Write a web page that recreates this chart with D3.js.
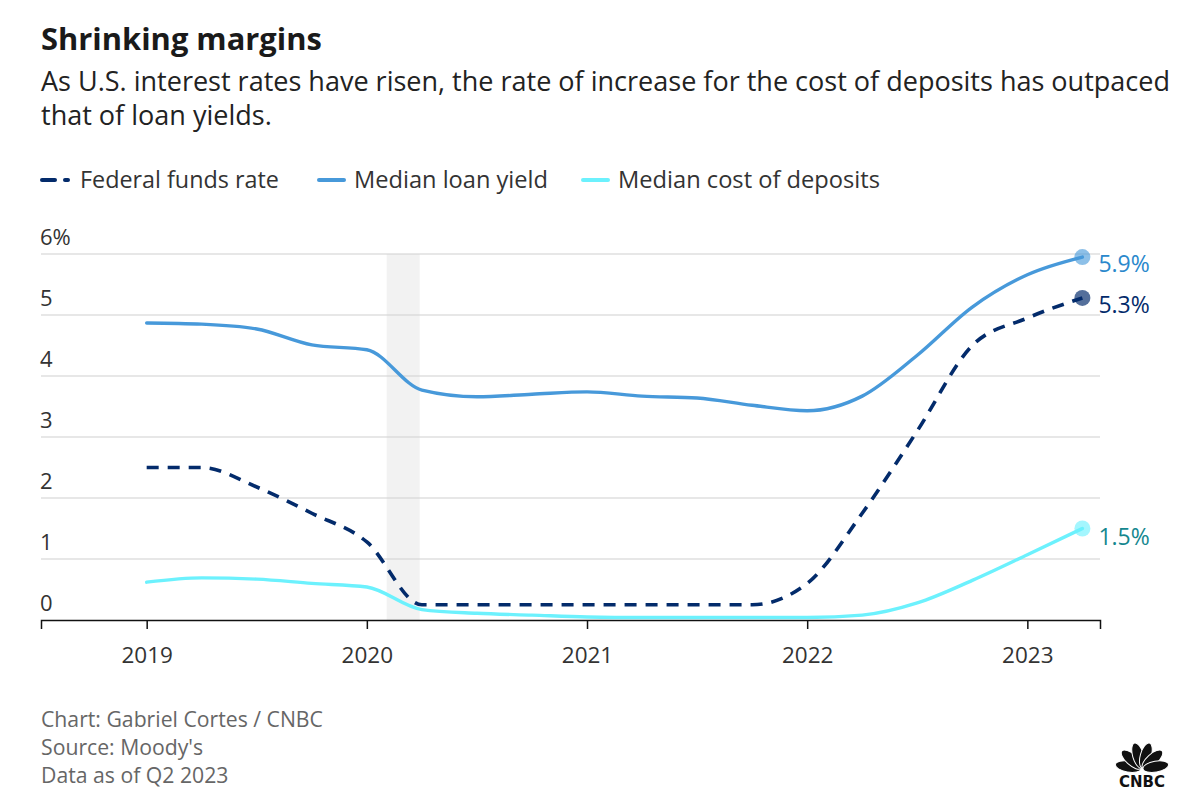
<!DOCTYPE html>
<html>
<head>
<meta charset="utf-8">
<script src="https://cdn.jsdelivr.net/npm/d3@7"></script>
<style>
  body { margin: 0; background: #fff; font-family: "Open Sans", Lato, sans-serif; }
  svg text { font-family: "Open Sans", Lato, sans-serif; }
</style>
</head>
<body>
<script>
// quarterly data, Q1 2019 .. Q2 2023
var quarters = [2019, 2019.25, 2019.5, 2019.75, 2020, 2020.25, 2020.5, 2020.75, 2021, 2021.25,
                2021.5, 2021.75, 2022, 2022.25, 2022.5, 2022.75, 2023, 2023.25];
var fedFunds = [2.5, 2.5, 2.18, 1.75, 1.28, 0.25, 0.25, 0.25, 0.25, 0.25,
                0.25, 0.25, 0.6, 1.75, 3.1, 4.5, 4.95, 5.28];
var loanYield = [4.87, 4.85, 4.77, 4.51, 4.43, 3.77, 3.66, 3.7, 3.74, 3.67,
                 3.64, 3.52, 3.43, 3.67, 4.34, 5.13, 5.66, 5.95];
var depositCost = [0.62, 0.69, 0.67, 0.6, 0.54, 0.17, 0.11, 0.08, 0.05, 0.04,
                   0.04, 0.04, 0.04, 0.08, 0.28, 0.65, 1.07, 1.5];
var seriesNames = ["Federal funds rate", "Median loan yield", "Median cost of deposits"];
var endLabels = ["5.3%", "5.9%", "1.5%"];
var yearTicks = [2019, 2020, 2021, 2022, 2023];
var yTicks = [0, 1, 2, 3, 4, 5, 6];
var recession = [2020.09, 2020.24];

var W = 1200, H = 812;
var svg = d3.select("body").append("svg").attr("width", W).attr("height", H);

// shrink/grow font so a text fills the width it has in the original
function fit(sel, width) {
  var base = parseFloat(sel.style("font-size"));
  var w = sel.node().getComputedTextLength();
  sel.style("font-size", (base * width / w).toFixed(2) + "px");
  return sel;
}

// titles
fit(svg.append("text").attr("x", 41).attr("y", 50)
  .style("font-size", "27px").style("font-weight", "bold").attr("fill", "#1a1a1a")
  .text("Shrinking margins"), 281);
var sub = ["As U.S. interest rates have risen, the rate of increase for the cost of deposits has outpaced",
           "that of loan yields."];
var subSize;
sub.forEach(function(s, i) {
  var t = svg.append("text").attr("x", 41).attr("y", 91 + i * 34)
    .style("font-size", "22px").attr("fill", "#222").text(s);
  if (i === 0) { fit(t, 1129); subSize = t.style("font-size"); }
  else t.style("font-size", subSize);
});

// scales
var x = d3.scaleLinear().domain([2018.52, 2023.33]).range([41, 1100]);
var y = d3.scaleLinear().domain([0, 6]).range([620, 254]);

var colors = ["#032b6b", "#4799da", "#6cf1fd"];
var labelColors = ["#032b6b", "#2a88cc", "#14878f"];

// recession band
svg.append("rect")
  .attr("x", x(recession[0])).attr("y", y(6))
  .attr("width", x(recession[1]) - x(recession[0])).attr("height", y(0) - y(6))
  .attr("fill", "#f2f2f2");

// grid
svg.append("g").selectAll("line").data(yTicks.filter(function(d) { return d > 0; })).enter()
  .append("line")
  .attr("x1", 41).attr("x2", 1100)
  .attr("y1", function(d) { return y(d); }).attr("y2", function(d) { return y(d); })
  .attr("stroke", "#d0d0d0").attr("stroke-width", 1.2);

svg.append("g").selectAll("text").data(yTicks).enter()
  .append("text")
  .attr("x", 40).attr("y", function(d) { return y(d) - 9; })
  .style("font-size", "22px").attr("fill", "#333")
  .text(function(d) { return d === 6 ? "6%" : d; });

// x axis
var xAxis = svg.append("g").attr("transform", "translate(0," + y(0) + ")")
  .call(d3.axisBottom(x).tickValues(yearTicks).tickFormat(d3.format("d")).tickSize(9));
xAxis.select(".domain").attr("stroke", "#111").attr("stroke-width", 1.5);
xAxis.selectAll(".tick line").attr("stroke", "#111").attr("stroke-width", 1.5);
xAxis.selectAll(".tick text").attr("y", 43).attr("dy", 0)
  .style("font-size", "22.5px").attr("fill", "#333")
  .style("font-family", "'Open Sans', Lato, sans-serif");

// lines
var line = d3.line()
  .x(function(d, i) { return x(quarters[i]); })
  .y(function(d) { return y(d); })
  .curve(d3.curveMonotoneX);

var allSeries = [fedFunds, loanYield, depositCost];
var drawOrder = [2, 1, 0];
drawOrder.forEach(function(k) {
  svg.append("path").datum(allSeries[k])
    .attr("d", line)
    .attr("fill", "none")
    .attr("stroke", colors[k])
    .attr("stroke-width", k === 0 ? 3.6 : 3.4)
    .attr("stroke-dasharray", k === 0 ? "12,9" : null)
    .attr("stroke-linecap", k === 0 ? "butt" : "round");
});

// end dots and labels
drawOrder.forEach(function(k) {
  var s = allSeries[k];
  var last = s[s.length - 1];
  var lx = x(quarters[quarters.length - 1]);
  svg.append("circle").attr("cx", lx).attr("cy", y(last)).attr("r", 8)
    .attr("fill", colors[k]).attr("fill-opacity", k === 0 ? 0.68 : 0.62);
  svg.append("text").attr("x", lx + 16).attr("y", y(last) + (k === 2 ? 16 : 15))
    .style("font-size", "23px").attr("fill", labelColors[k])
    .text(endLabels[k]);
});

// legend
var legendX = [41, 318, 582];
var legendW = [199, 194, 262];
seriesNames.forEach(function(n, k) {
  var g = svg.append("g").attr("transform", "translate(" + legendX[k] + ",180)");
  if (k === 0) {
    g.append("line").attr("x1", 1).attr("x2", 14).attr("y1", 0).attr("y2", 0)
      .attr("stroke", colors[0]).attr("stroke-width", 4).attr("stroke-linecap", "round");
    g.append("line").attr("x1", 24).attr("x2", 27).attr("y1", 0).attr("y2", 0)
      .attr("stroke", colors[0]).attr("stroke-width", 4).attr("stroke-linecap", "round");
  } else {
    g.append("line").attr("x1", 1).attr("x2", 26).attr("y1", 0).attr("y2", 0)
      .attr("stroke", colors[k]).attr("stroke-width", 4).attr("stroke-linecap", "round");
  }
  fit(g.append("text").attr("x", k === 0 ? 39 : 36).attr("y", 8)
    .style("font-size", "21px").attr("fill", "#333").text(n), legendW[k]);
});

// footer
var foot = ["Chart: Gabriel Cortes / CNBC", "Source: Moody's", "Data as of Q2 2023"];
var footSize;
foot.forEach(function(t, i) {
  var el = svg.append("text").attr("x", 41).attr("y", 727 + i * 28)
    .style("font-size", "18px").attr("fill", "#666").text(t);
  if (i === 0) { fit(el, 282); footSize = el.style("font-size"); }
  else el.style("font-size", footSize);
});

// CNBC peacock mark
var logo = svg.append("g").attr("transform", "translate(1142,769)");
var angles = [-80, -48, -16, 16, 48, 80];
angles.forEach(function(a) {
  logo.append("ellipse")
    .attr("cx", 0).attr("cy", -14).attr("rx", 5.5).attr("ry", 13)
    .attr("transform", "rotate(" + a + ") ")
    .attr("fill", "#111").attr("stroke", "#fff").attr("stroke-width", 1);
});
logo.append("text").attr("x", 0).attr("y", 18).attr("text-anchor", "middle")
  .style("font-size", "15px").style("font-weight", "900").attr("fill", "#111")
  .style("font-family", "'DejaVu Sans', sans-serif").text("CNBC");
</script>
</body>
</html>
